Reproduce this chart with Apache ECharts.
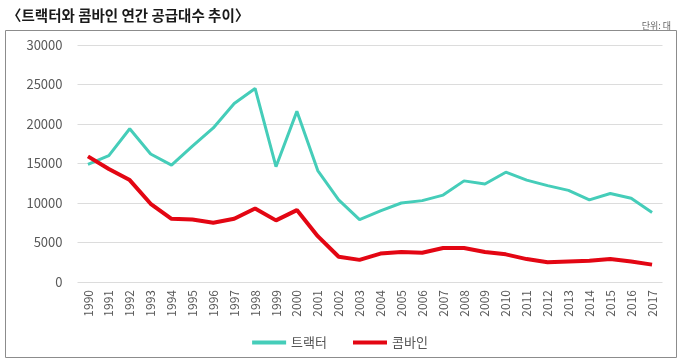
<!DOCTYPE html>
<html><head><meta charset="utf-8">
<script src="https://cdn.jsdelivr.net/npm/echarts@6/dist/echarts.min.js"></script>
<style>html,body{margin:0;padding:0;background:#fff}#c{width:680px;height:362px}</style>
</head><body><div id="c"></div>
<script>
const years = ['1990','1991','1992','1993','1994','1995','1996','1997','1998','1999','2000','2001','2002','2003','2004','2005','2006','2007','2008','2009','2010','2011','2012','2013','2014','2015','2016','2017'];
const tractor = [14900,16000,19400,16200,14800,17200,19500,22600,24500,14600,21600,14100,10400,7900,9000,10000,10300,11000,12800,12400,13900,12900,12200,11600,10400,11200,10600,8800];
const combine = [15900,14300,12900,9900,8000,7900,7500,8000,9300,7800,9100,5800,3200,2800,3600,3800,3700,4300,4300,3800,3500,2900,2500,2600,2700,2900,2600,2200];
const yTicks = [0,5000,10000,15000,20000,25000,30000];
const seriesNames = ['트랙터','콤바인'];

const chart = echarts.init(document.getElementById('c'));
chart.setOption({
  animation:false,
  textStyle:{fontFamily:'"Noto Sans CJK KR","Noto Sans",sans-serif'},
  title:[
    {text:'〈트랙터와 콤바인 연간 공급대수 추이〉',left:2,top:3,textStyle:{fontSize:14.5,fontWeight:'bold',color:'#1a1a1a'}},
    {text:'단위: 대',right:4,top:16,textStyle:{fontSize:9,fontWeight:'normal',color:'#666'}}
  ],
  graphic:[{type:'rect',shape:{x:5.5,y:30.5,width:671,height:327},style:{fill:'none',stroke:'#8c8c8c',lineWidth:1},silent:true}],
  grid:{left:77.5,right:17.5,top:45,bottom:80},
  legend:{bottom:8,left:'center',itemWidth:34,itemHeight:4,itemGap:26,icon:'rect',
    textStyle:{fontSize:13,color:'#555'},data:seriesNames},
  xAxis:{type:'category',data:years,boundaryGap:true,
    axisLine:{show:false},axisTick:{show:false},
    axisLabel:{rotate:90,fontSize:12,color:'#595959',margin:8,interval:0}},
  yAxis:{type:'value',min:yTicks[0],max:yTicks[yTicks.length-1],interval:yTicks[1]-yTicks[0],
    axisLine:{show:false},axisTick:{show:false},
    splitLine:{lineStyle:{color:'#dcdcdc',width:1}},
    axisLabel:{fontSize:13,color:'#595959',margin:15,formatter:v=>String(v)}},
  series:[
    {name:seriesNames[0],type:'line',data:tractor,symbol:'none',lineStyle:{color:'#45cdb9',width:3},itemStyle:{color:'#45cdb9'}},
    {name:seriesNames[1],type:'line',data:combine,symbol:'none',lineStyle:{color:'#e30613',width:4},itemStyle:{color:'#e30613'}}
  ]
});
</script></body></html>
